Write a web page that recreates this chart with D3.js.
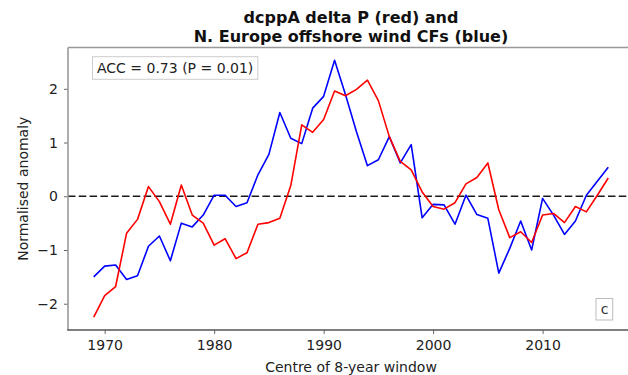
<!DOCTYPE html>
<html>
<head>
<meta charset="utf-8">
<script src="https://cdn.jsdelivr.net/npm/d3@7"></script>
<style>
  html, body { margin: 0; padding: 0; background: #fff; }
  svg { display: block; font-family: "DejaVu Sans", sans-serif; }
</style>
</head>
<body>
<svg id="chart" width="628" height="375"></svg>
<script>
// Centre year of each 8-year window
const years = d3.range(1969, 2017);

// dcppA delta P, normalised anomaly (red)
const deltaP = [
  -2.25, -1.85, -1.68, -0.69, -0.43, 0.18, -0.10, -0.52, 0.21, -0.35,
  -0.50, -0.91, -0.79, -1.16, -1.05, -0.52, -0.49, -0.41, 0.20, 1.33,
  1.19, 1.43, 1.96, 1.87, 1.99, 2.16, 1.78, 1.11, 0.65, 0.49,
  0.08, -0.19, -0.24, -0.12, 0.23, 0.35, 0.62, -0.25, -0.77, -0.66,
  -0.86, -0.35, -0.32, -0.49, -0.19, -0.29, 0.02, 0.34
];

// N. Europe offshore wind capacity factors, normalised anomaly (blue)
const windCF = [
  -1.50, -1.30, -1.28, -1.55, -1.48, -0.93, -0.74, -1.20, -0.50, -0.57,
  -0.35, 0.02, 0.02, -0.19, -0.12, 0.40, 0.78, 1.56, 1.08, 0.98,
  1.64, 1.86, 2.53, 1.89, 1.20, 0.57, 0.68, 1.11, 0.62, 0.96,
  -0.40, -0.15, -0.16, -0.52, 0.02, -0.34, -0.41, -1.43, -0.97, -0.46,
  -1.00, -0.04, -0.35, -0.71, -0.46, 0.02, 0.28, 0.54
];

const xTicks = [1970, 1980, 1990, 2000, 2010];
const yTicks = [-2, -1, 0, 1, 2];
const titleLines = ["dcppA delta P (red) and", "N. Europe offshore wind CFs (blue)"];
const accText = "ACC = 0.73 (P = 0.01)";
const panelLabel = "c";

const svg = d3.select("#chart");
const plot = { left: 68, top: 47.5, right: 634, bottom: 330 };

// Axis limits padded by 5% of the data span on each side
function padded(lo, hi) {
  const pad = (hi - lo) * 0.05;
  return [lo - pad, hi + pad];
}
const allVals = deltaP.concat(windCF);
const x = d3.scaleLinear()
  .domain(padded(d3.min(years), d3.max(years)))
  .range([plot.left, plot.right]);
const y = d3.scaleLinear()
  .domain(padded(d3.min(allVals), d3.max(allVals)))
  .range([plot.bottom, plot.top]);

// Clip region for the data
svg.append("defs").append("clipPath").attr("id", "plotClip")
  .append("rect")
  .attr("x", plot.left).attr("y", plot.top)
  .attr("width", plot.right - plot.left).attr("height", plot.bottom - plot.top);

// Zero reference line
svg.append("line")
  .attr("x1", plot.left).attr("x2", plot.right)
  .attr("y1", y(0)).attr("y2", y(0))
  .attr("stroke", "#1a1a1a")
  .attr("stroke-width", 1.5)
  .attr("stroke-dasharray", "7.5,3.3");

// Series lines
const line = d3.line()
  .x((d, i) => x(years[i]))
  .y(d => y(d));

const g = svg.append("g").attr("clip-path", "url(#plotClip)");
g.append("path").datum(windCF)
  .attr("fill", "none").attr("stroke", "#0000ff")
  .attr("stroke-width", 1.6).attr("stroke-linejoin", "round")
  .attr("d", line);
g.append("path").datum(deltaP)
  .attr("fill", "none").attr("stroke", "#ff0000")
  .attr("stroke-width", 1.6).attr("stroke-linejoin", "round")
  .attr("d", line);

// Axes
const xAxis = svg.append("g")
  .attr("transform", `translate(0,${plot.bottom})`)
  .call(d3.axisBottom(x).tickValues(xTicks).tickFormat(d3.format("d")).tickSize(4).tickPadding(6));
const yAxis = svg.append("g")
  .attr("transform", `translate(${plot.left},0)`)
  .call(d3.axisLeft(y).tickValues(yTicks).tickFormat(d => d < 0 ? "\u2212" + Math.abs(d) : d).tickSize(4).tickPadding(6));

[xAxis, yAxis].forEach(ax => {
  ax.selectAll("text")
    .attr("font-family", "DejaVu Sans, sans-serif")
    .attr("font-size", 14)
    .attr("fill", "#222");
  ax.selectAll(".tick line").attr("stroke", "#666").attr("stroke-width", 1);
  ax.select(".domain").remove();
});

// Frame
svg.append("line")
  .attr("x1", plot.left).attr("x2", plot.right)
  .attr("y1", plot.top).attr("y2", plot.top)
  .attr("stroke", "#999").attr("stroke-width", 1.6);
svg.append("line")
  .attr("x1", plot.left).attr("x2", plot.left)
  .attr("y1", plot.top).attr("y2", plot.bottom)
  .attr("stroke", "#999").attr("stroke-width", 1.6);
svg.append("line")
  .attr("x1", plot.left - 0.8).attr("x2", plot.right)
  .attr("y1", plot.bottom).attr("y2", plot.bottom)
  .attr("stroke", "#555").attr("stroke-width", 1.6);

// Title
const cx = (plot.left + plot.right) / 2;
svg.append("text")
  .attr("x", cx).attr("y", 23)
  .attr("text-anchor", "middle")
  .attr("font-size", 16).attr("font-weight", "bold").attr("fill", "#111")
  .text(titleLines[0]);
svg.append("text")
  .attr("x", cx).attr("y", 42)
  .attr("text-anchor", "middle")
  .attr("font-size", 16).attr("font-weight", "bold").attr("fill", "#111")
  .text(titleLines[1]);

// Axis labels
svg.append("text")
  .attr("x", cx).attr("y", 372)
  .attr("text-anchor", "middle")
  .attr("font-size", 14).attr("fill", "#222")
  .text("Centre of 8-year window");
svg.append("text")
  .attr("transform", `translate(28,${(plot.top + plot.bottom) / 2}) rotate(-90)`)
  .attr("text-anchor", "middle")
  .attr("font-size", 14).attr("fill", "#222")
  .text("Normalised anomaly");

// Correlation annotation box
const acc = svg.append("g");
const accT = acc.append("text")
  .attr("x", 97).attr("y", 73)
  .attr("font-size", 14).attr("fill", "#222")
  .text(accText);
const bb = accT.node().getBBox();
acc.insert("rect", "text")
  .attr("x", bb.x - 4.5).attr("y", 56.7)
  .attr("width", bb.width + 9).attr("height", 22.6)
  .attr("fill", "#fff").attr("stroke", "#ccc").attr("stroke-width", 1);

// Panel label
const pl = svg.append("g");
const plT = pl.append("text")
  .attr("x", 604.5).attr("y", 314)
  .attr("text-anchor", "middle")
  .attr("font-size", 14).attr("fill", "#333")
  .text(panelLabel);
pl.insert("rect", "text")
  .attr("x", 596).attr("y", 298.5)
  .attr("width", 16.7).attr("height", 21.5)
  .attr("fill", "#fff").attr("stroke", "#bbb").attr("stroke-width", 1);
</script>
</body>
</html>
